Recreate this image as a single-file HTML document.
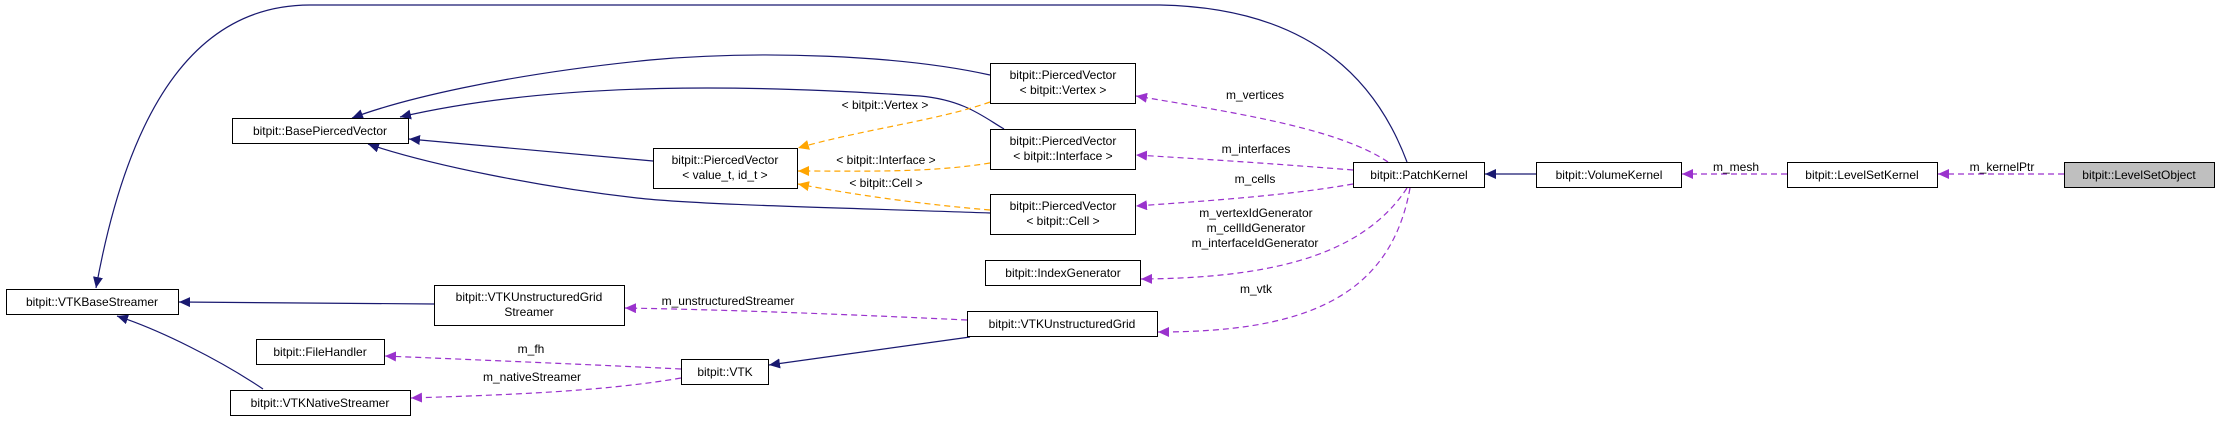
<!DOCTYPE html>
<html><head><meta charset="utf-8"><style>
html,body{margin:0;padding:0;background:#fff;}
svg{display:block;}
text{font-family:"Liberation Sans",sans-serif;font-size:12px;fill:#000;}
.b{fill:#fff;stroke:#000;stroke-width:1;}
.n{fill:none;stroke:#191970;stroke-width:1.2;}
.p{fill:none;stroke:#9a32cd;stroke-width:1.2;stroke-dasharray:6,4;}
.o{fill:none;stroke:#ffa500;stroke-width:1.2;stroke-dasharray:6,4;}
</style></head><body>
<svg width="2221" height="421" viewBox="0 0 2221 421" xmlns="http://www.w3.org/2000/svg">
<defs>
<marker id="an" markerUnits="userSpaceOnUse" markerWidth="12" markerHeight="10" refX="11" refY="5" orient="auto"><path d="M0,0 L11,5 L0,10 z" fill="#191970"/></marker>
<marker id="ap" markerUnits="userSpaceOnUse" markerWidth="12" markerHeight="10" refX="11" refY="5" orient="auto"><path d="M0,0 L11,5 L0,10 z" fill="#9a32cd"/></marker>
<marker id="ao" markerUnits="userSpaceOnUse" markerWidth="12" markerHeight="10" refX="11" refY="5" orient="auto"><path d="M0,0 L11,5 L0,10 z" fill="#ffa500"/></marker>
</defs>

<!-- navy edges -->
<path class="n" marker-end="url(#an)" d="M1407,162 C1380,90 1320,8 1160,5 L310,5 C200,5 130,100 96,288"/>
<path class="n" marker-end="url(#an)" d="M990,75 C900,55 760,50 650,60 C500,75 400,100 352,118"/>
<path class="n" marker-end="url(#an)" d="M1004,129 C985,118 965,100 920,96 C760,85 560,80 400,117"/>
<path class="n" marker-end="url(#an)" d="M653,161 L409,139"/>
<path class="n" marker-end="url(#an)" d="M990,213 C850,208 700,205 637,198 C540,187 430,165 368,144"/>
<path class="n" marker-end="url(#an)" d="M434,304 L179,302"/>
<path class="n" marker-end="url(#an)" d="M263,389 C220,360 160,330 117,316"/>
<path class="n" marker-end="url(#an)" d="M970,337 L769,365"/>
<path class="n" marker-end="url(#an)" d="M1536,174 L1485,174"/>

<!-- orange -->
<path class="o" marker-end="url(#ao)" d="M990,102 C940,120 860,130 798,148"/>
<path class="o" marker-end="url(#ao)" d="M990,163 C930,173 860,171 798,171"/>
<path class="o" marker-end="url(#ao)" d="M990,210 C930,205 860,196 798,184"/>
<text x="885" y="109" text-anchor="middle">&lt; bitpit::Vertex &gt;</text>
<text x="886" y="164" text-anchor="middle">&lt; bitpit::Interface &gt;</text>
<text x="886" y="187" text-anchor="middle">&lt; bitpit::Cell &gt;</text>

<!-- purple -->
<path class="p" marker-end="url(#ap)" d="M1388,162 C1340,130 1250,115 1136,96"/>
<path class="p" marker-end="url(#ap)" d="M1353,170 C1290,165 1220,160 1136,155"/>
<path class="p" marker-end="url(#ap)" d="M1353,184 C1290,195 1220,200 1136,206"/>
<path class="p" marker-end="url(#ap)" d="M1407,188 C1360,260 1260,278 1141,279"/>
<path class="p" marker-end="url(#ap)" d="M1410,188 C1390,300 1300,332 1158,332"/>
<path class="p" marker-end="url(#ap)" d="M967,320 C860,315 740,310 625,308"/>
<path class="p" marker-end="url(#ap)" d="M681,369 C600,365 480,360 385,356"/>
<path class="p" marker-end="url(#ap)" d="M681,378 C600,392 500,395 411,398"/>
<path class="p" marker-end="url(#ap)" d="M1787,174 L1682,174"/>
<path class="p" marker-end="url(#ap)" d="M2064,174 L1938,174"/>
<text x="1255" y="99" text-anchor="middle">m_vertices</text>
<text x="1256" y="153" text-anchor="middle">m_interfaces</text>
<text x="1255" y="183" text-anchor="middle">m_cells</text>
<text x="1256" y="217" text-anchor="middle">m_vertexIdGenerator</text>
<text x="1256" y="232" text-anchor="middle">m_cellIdGenerator</text>
<text x="1255" y="247" text-anchor="middle">m_interfaceIdGenerator</text>
<text x="1256" y="293" text-anchor="middle">m_vtk</text>
<text x="728" y="305" text-anchor="middle">m_unstructuredStreamer</text>
<text x="531" y="353" text-anchor="middle">m_fh</text>
<text x="532" y="381" text-anchor="middle">m_nativeStreamer</text>
<text x="1736" y="171" text-anchor="middle">m_mesh</text>
<text x="2002" y="171" text-anchor="middle">m_kernelPtr</text>

<!-- boxes -->
<rect class="b" x="6.5" y="289.5" width="172" height="25"/><text x="92" y="306" text-anchor="middle">bitpit::VTKBaseStreamer</text>
<rect class="b" x="232.5" y="118.5" width="176" height="25"/><text x="320" y="135" text-anchor="middle">bitpit::BasePiercedVector</text>
<rect class="b" x="653.5" y="148.5" width="144" height="40"/><text x="725" y="164" text-anchor="middle">bitpit::PiercedVector</text><text x="725" y="179" text-anchor="middle">&lt; value_t, id_t &gt;</text>
<rect class="b" x="990.5" y="63.5" width="145" height="40"/><text x="1063" y="79" text-anchor="middle">bitpit::PiercedVector</text><text x="1063" y="94" text-anchor="middle">&lt; bitpit::Vertex &gt;</text>
<rect class="b" x="990.5" y="129.5" width="145" height="40"/><text x="1063" y="145" text-anchor="middle">bitpit::PiercedVector</text><text x="1063" y="160" text-anchor="middle">&lt; bitpit::Interface &gt;</text>
<rect class="b" x="990.5" y="194.5" width="145" height="40"/><text x="1063" y="210" text-anchor="middle">bitpit::PiercedVector</text><text x="1063" y="225" text-anchor="middle">&lt; bitpit::Cell &gt;</text>
<rect class="b" x="985.5" y="260.5" width="155" height="25"/><text x="1063" y="277" text-anchor="middle">bitpit::IndexGenerator</text>
<rect class="b" x="434.5" y="285.5" width="190" height="40"/><text x="529" y="301" text-anchor="middle">bitpit::VTKUnstructuredGrid</text><text x="529" y="316" text-anchor="middle">Streamer</text>
<rect class="b" x="967.5" y="311.5" width="190" height="25"/><text x="1062" y="328" text-anchor="middle">bitpit::VTKUnstructuredGrid</text>
<rect class="b" x="256.5" y="339.5" width="128" height="25"/><text x="320" y="356" text-anchor="middle">bitpit::FileHandler</text>
<rect class="b" x="681.5" y="359.5" width="87" height="25"/><text x="725" y="376" text-anchor="middle">bitpit::VTK</text>
<rect class="b" x="230.5" y="390.5" width="180" height="25"/><text x="320" y="407" text-anchor="middle">bitpit::VTKNativeStreamer</text>
<rect class="b" x="1353.5" y="162.5" width="131" height="25"/><text x="1419" y="179" text-anchor="middle">bitpit::PatchKernel</text>
<rect class="b" x="1536.5" y="162.5" width="145" height="25"/><text x="1609" y="179" text-anchor="middle">bitpit::VolumeKernel</text>
<rect class="b" x="1787.5" y="162.5" width="150" height="25"/><text x="1862" y="179" text-anchor="middle">bitpit::LevelSetKernel</text>
<rect x="2064.5" y="162.5" width="150" height="25" fill="#bfbfbf" stroke="#000"/><text x="2139" y="179" text-anchor="middle">bitpit::LevelSetObject</text>
</svg>
</body></html>
